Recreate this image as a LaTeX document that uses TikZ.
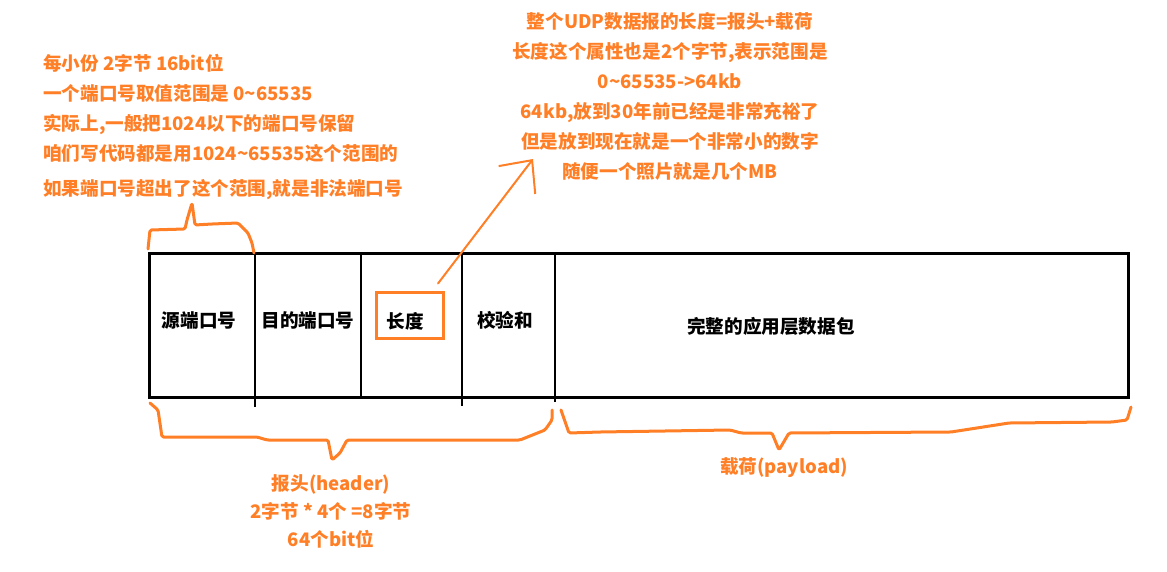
\documentclass[tikz,border=0pt]{standalone}
\usepackage{fontspec}
\newfontfamily\cjk{Noto Sans CJK SC}
\usetikzlibrary{arrows.meta,positioning}
\definecolor{udporange}{HTML}{FF7F27}

\begin{document}
\begin{tikzpicture}[x=1pt,y=-1pt,
  font=\cjk\bfseries\fontsize{18.6}{30}\selectfont,
  note/.style={text=udporange,inner sep=0pt},
  cell/.style={inner sep=0pt},
  lenbox/.style={draw=udporange,line width=3pt,anchor=west,text width=47pt,
                 inner xsep=10pt,inner ysep=0pt,minimum height=46pt,align=left,
                 text height=28pt,text depth=2pt},
  frame/.style={line width=3pt},
  sep/.style={line width=2.6pt},
  brc/.style={draw=udporange,line width=3pt,rounded corners=1.5pt,
              line join=round,line cap=round},
  ar/.style={draw=udporange,line width=2pt,line cap=round,
             -{Straight Barb[length=25pt,width=46pt]}}]
\useasboundingbox (0,0) rectangle (1167,572);
% packet with its fields
\draw[frame] (149,253) rectangle (1128,397);
\foreach \x/\y in {255/407,361/397,462/406,555/402} \draw[sep] (\x,253) -- (\x,\y);
\node[cell] (src) at (199,320) {源端口号};
\node[cell] (dst) at (308,320) {目的端口号};
\node[lenbox] (len) at (375,315) {长度};
\node[cell] (chk) at (505,320) {校验和};
\node[cell] (data) at (771,326) {完整的应用层数据包};
% notes
\node[note,align=left,anchor=north west] (ports) at (43,54)
  {每小份 2字节 16bit位\\一个端口号取值范围是 0\textasciitilde 65535\\
   实际上,一般把1024以下的端口号保留\\咱们写代码都是用1024\textasciitilde 65535这个范围的\\[5pt]
   如果端口号超出了这个范围,就是非法端口号};
\node[note,align=center,anchor=north] (lennote) at (670,12)
  {整个UDP数据报的长度=报头+载荷\\长度这个属性也是2个字节,表示范围是\\
   0\textasciitilde 65535->64kb\\64kb,放到30年前已经是非常充裕了\\
   但是放到现在就是一个非常小的数字\\随便一个照片就是几个MB};
\node[note,align=center,anchor=north,font=\cjk\bfseries\fontsize{18.6}{28}\selectfont]
  (hdr) at (331,474) {报头(header)\\2字节 * 4个 =8字节\\64个bit位};
\node[note] (pay) at (784,468) {载荷(payload)};
% braces
\draw[brc] (148,249) -- (150,230) -- (185,229) -- (187,220) -- (192,203) -- (195,225)
  -- (212,224) -- (238,223) -- (248,233) -- (252,243) -- (254,253);
\draw[brc] (150,403) -- (158,410) -- (162,437) -- (257,437) -- (267,440) -- (328,440)
  -- (332,460) -- (340,453) -- (347,440) -- (520,440) -- (545,430) -- (552,420) -- (552,410);
\draw[brc] (561,410) -- (569,433) -- (600,432) -- (730,430) -- (741,433) -- (772,433)
  -- (779,450) -- (789,433) -- (951,432) -- (1009,423) -- (1112,422) -- (1127,420) -- (1131,407);
% pointer to the length field
\coordinate (tip) at (533,159);
\draw[ar] ([shift={(-7,-7)}]len.north east) -- (tip);
\end{tikzpicture}
\end{document}
